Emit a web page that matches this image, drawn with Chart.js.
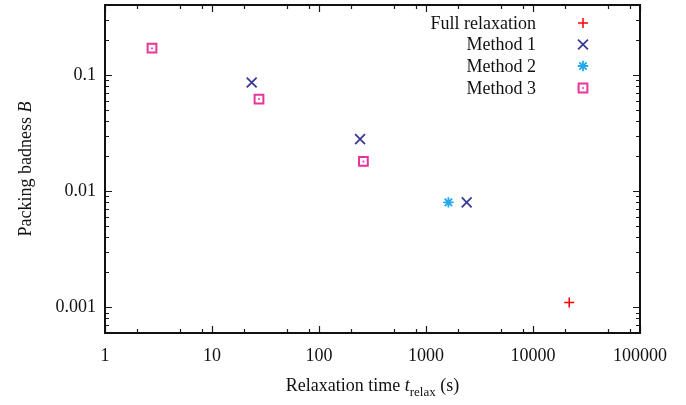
<!DOCTYPE html>
<html><head><meta charset="utf-8">
<script src="https://cdn.jsdelivr.net/npm/chart.js@4/dist/chart.umd.min.js"></script>
<style>html,body{margin:0;padding:0;background:#fff}</style>
</head><body>
<canvas id="c" width="686" height="405"></canvas>
<script>
// ---- data ----
const seriesNames = ['Full relaxation', 'Method 1', 'Method 2', 'Method 3'];
const fullX = [21800];
const fullY = [0.0011];
const m1X = [23.5, 242, 2400];
const m1Y = [0.086, 0.028, 0.008];
const m2X = [1620];
const m2Y = [0.008];
const m3X = [2.75, 27.5, 260];
const m3Y = [0.17, 0.062, 0.018];
const xTicks = [1, 10, 100, 1000, 10000, 100000];
const xTickLabels = ['1', '10', '100', '1000', '10000', '100000'];
const yTicks = [0.001, 0.01, 0.1];
const yTickLabels = ['0.001', '0.01', '0.1'];
const xTitle = ['Relaxation time ', 't', 'relax', ' (s)'];
const yTitle = ['Packing badness ', 'B'];

const FONT = "'Liberation Serif', 'DejaVu Serif', serif";
const colors = ['#ff0000', '#3a3a94', '#22a8ec', '#e8349c'];
const styles = [
  {pointStyle: 'cross', radius: 5, borderWidth: 1.5},
  {pointStyle: 'crossRot', radius: 7, borderWidth: 1.8},
  {pointStyle: 'star', radius: 5.2, borderWidth: 1.8},
  {pointStyle: 'rect', radius: 6.2, borderWidth: 2}
];
const pts = (xs, ys) => xs.map((x, i) => ({x: x, y: ys[i]}));
const seriesData = [pts(fullX, fullY), pts(m1X, m1Y), pts(m2X, m2Y), pts(m3X, m3Y)];

const datasets = seriesNames.map((n, i) => ({
  label: n,
  data: seriesData[i],
  showLine: false,
  pointStyle: styles[i].pointStyle,
  pointRadius: styles[i].radius,
  pointHoverRadius: styles[i].radius,
  pointBorderWidth: styles[i].borderWidth,
  pointBorderColor: colors[i],
  pointBackgroundColor: 'rgba(0,0,0,0)'
}));

const zeroPad = () => ({left: 0, top: 0, right: 0, bottom: 0});

const frameTicks = {
  id: 'frameTicks',
  afterDatasetsDraw(chart) {
    const ctx = chart.ctx, a = chart.chartArea;
    const xs = chart.scales.x, ys = chart.scales.y;
    ctx.save();
    ctx.strokeStyle = '#1a1a1a';
    ctx.lineWidth = 1.2;
    const major = 7, minor = 4;
    // x ticks (bottom + top)
    for (let k = 0; k <= 5; k++) {
      const dec = Math.pow(10, k);
      const list = [[dec, major]];
      if (k < 5) [2, 5, 8].forEach(m => list.push([m * dec, minor]));
      list.forEach(([v, len]) => {
        const px = Math.round(xs.getPixelForValue(v)) + 0.5;
        ctx.beginPath();
        ctx.moveTo(px, a.bottom); ctx.lineTo(px, a.bottom - len);
        ctx.moveTo(px, a.top); ctx.lineTo(px, a.top + len);
        ctx.stroke();
      });
    }
    // y ticks (left + right)
    for (let k = -4; k <= -1; k++) {
      for (let m = 1; m <= 9; m++) {
        const v = m * Math.pow(10, k);
        if (v < ys.min || v > ys.max) continue;
        const len = m === 1 ? major : minor;
        const py = Math.round(ys.getPixelForValue(v)) + 0.5;
        ctx.beginPath();
        ctx.moveTo(a.left, py); ctx.lineTo(a.left + len, py);
        ctx.moveTo(a.right, py); ctx.lineTo(a.right - len, py);
        ctx.stroke();
      }
    }
    // frame
    ctx.lineWidth = 2;
    ctx.strokeStyle = '#111';
    ctx.strokeRect(a.left, a.top, a.right - a.left, a.bottom - a.top);

    // center dots for squares
    const meta = chart.getDatasetMeta(3);
    ctx.fillStyle = colors[3];
    meta.data.forEach(el => {
      ctx.beginPath(); ctx.arc(el.x, el.y, 1, 0, Math.PI * 2); ctx.fill();
    });

    // legend
    const rowsY = [23, 44.5, 66, 88];
    const textRight = 536, markX = 583;
    ctx.font = '18px ' + FONT;
    ctx.textAlign = 'right';
    ctx.textBaseline = 'middle';
    seriesNames.forEach((n, i) => {
      ctx.fillStyle = '#111';
      ctx.fillText(n, textRight, rowsY[i] + 1);
      ctx.strokeStyle = colors[i];
      ctx.fillStyle = 'rgba(0,0,0,0)';
      ctx.lineWidth = styles[i].borderWidth;
      Chart.helpers.drawPoint(ctx, {pointStyle: styles[i].pointStyle, radius: styles[i].radius, rotation: 0, borderWidth: styles[i].borderWidth}, markX, rowsY[i]);
      if (i === 3) {
        ctx.fillStyle = colors[3];
        ctx.beginPath(); ctx.arc(markX, rowsY[i], 1, 0, Math.PI * 2); ctx.fill();
      }
    });

    // x title
    ctx.fillStyle = '#111';
    ctx.textAlign = 'left';
    ctx.textBaseline = 'alphabetic';
    const fReg = '18px ' + FONT, fIt = 'italic 18px ' + FONT, fSub = '13px ' + FONT;
    const parts = [[xTitle[0], fReg, 0], [xTitle[1], fIt, 0], [xTitle[2], fSub, 5], [xTitle[3], fReg, 0]];
    let w = 0;
    parts.forEach(p => { ctx.font = p[1]; w += ctx.measureText(p[0]).width; });
    let x = (a.left + a.right) / 2 - w / 2;
    const base = 391;
    parts.forEach(p => { ctx.font = p[1]; ctx.fillText(p[0], x, base + p[2]); x += ctx.measureText(p[0]).width; });

    // y title
    ctx.save();
    ctx.translate(31, (a.top + a.bottom) / 2);
    ctx.rotate(-Math.PI / 2);
    const yp = [[yTitle[0], fReg], [yTitle[1], fIt]];
    let wy = 0;
    yp.forEach(p => { ctx.font = p[1]; wy += ctx.measureText(p[0]).width; });
    let xx = -wy / 2;
    yp.forEach(p => { ctx.font = p[1]; ctx.fillText(p[0], xx, 0); xx += ctx.measureText(p[0]).width; });
    ctx.restore();
    ctx.restore();
  }
};

new Chart(document.getElementById('c'), {
  type: 'scatter',
  data: {datasets},
  options: {
    responsive: false,
    animation: false,
    events: [],
    layout: {autoPadding: false, padding: {left: 5, right: 46, top: 5, bottom: 32}},
    plugins: {legend: {display: false}, tooltip: {enabled: false}},
    scales: {
      x: {
        type: 'logarithmic', min: 1, max: 100000,
        grid: {display: false, drawTicks: false},
        border: {display: false},
        afterBuildTicks: s => { s.ticks = xTicks.map(v => ({value: v})); },
        afterFit: s => { s.height = 40; s.paddingLeft = 0; s.paddingRight = 0; s.paddingTop = 0; s.paddingBottom = 0; s.getPadding = zeroPad; },
        ticks: {
          autoSkip: false, maxRotation: 0, padding: 12, color: '#111',
          font: {family: FONT, size: 18},
          callback: v => { const i = xTicks.indexOf(v); return i >= 0 ? xTickLabels[i] : ''; }
        }
      },
      y: {
        type: 'logarithmic', min: 0.00062, max: 0.4,
        grid: {display: false, drawTicks: false},
        border: {display: false},
        afterBuildTicks: s => { s.ticks = yTicks.map(v => ({value: v})); },
        afterFit: s => { s.width = 100; s.paddingLeft = 0; s.paddingRight = 0; s.paddingTop = 0; s.paddingBottom = 0; s.getPadding = zeroPad; },
        ticks: {
          autoSkip: false, padding: 9, color: '#111',
          font: {family: FONT, size: 18},
          callback: v => { const i = yTicks.indexOf(v); return i >= 0 ? yTickLabels[i] : ''; }
        }
      }
    }
  },
  plugins: [frameTicks]
});
</script>
</body></html>
